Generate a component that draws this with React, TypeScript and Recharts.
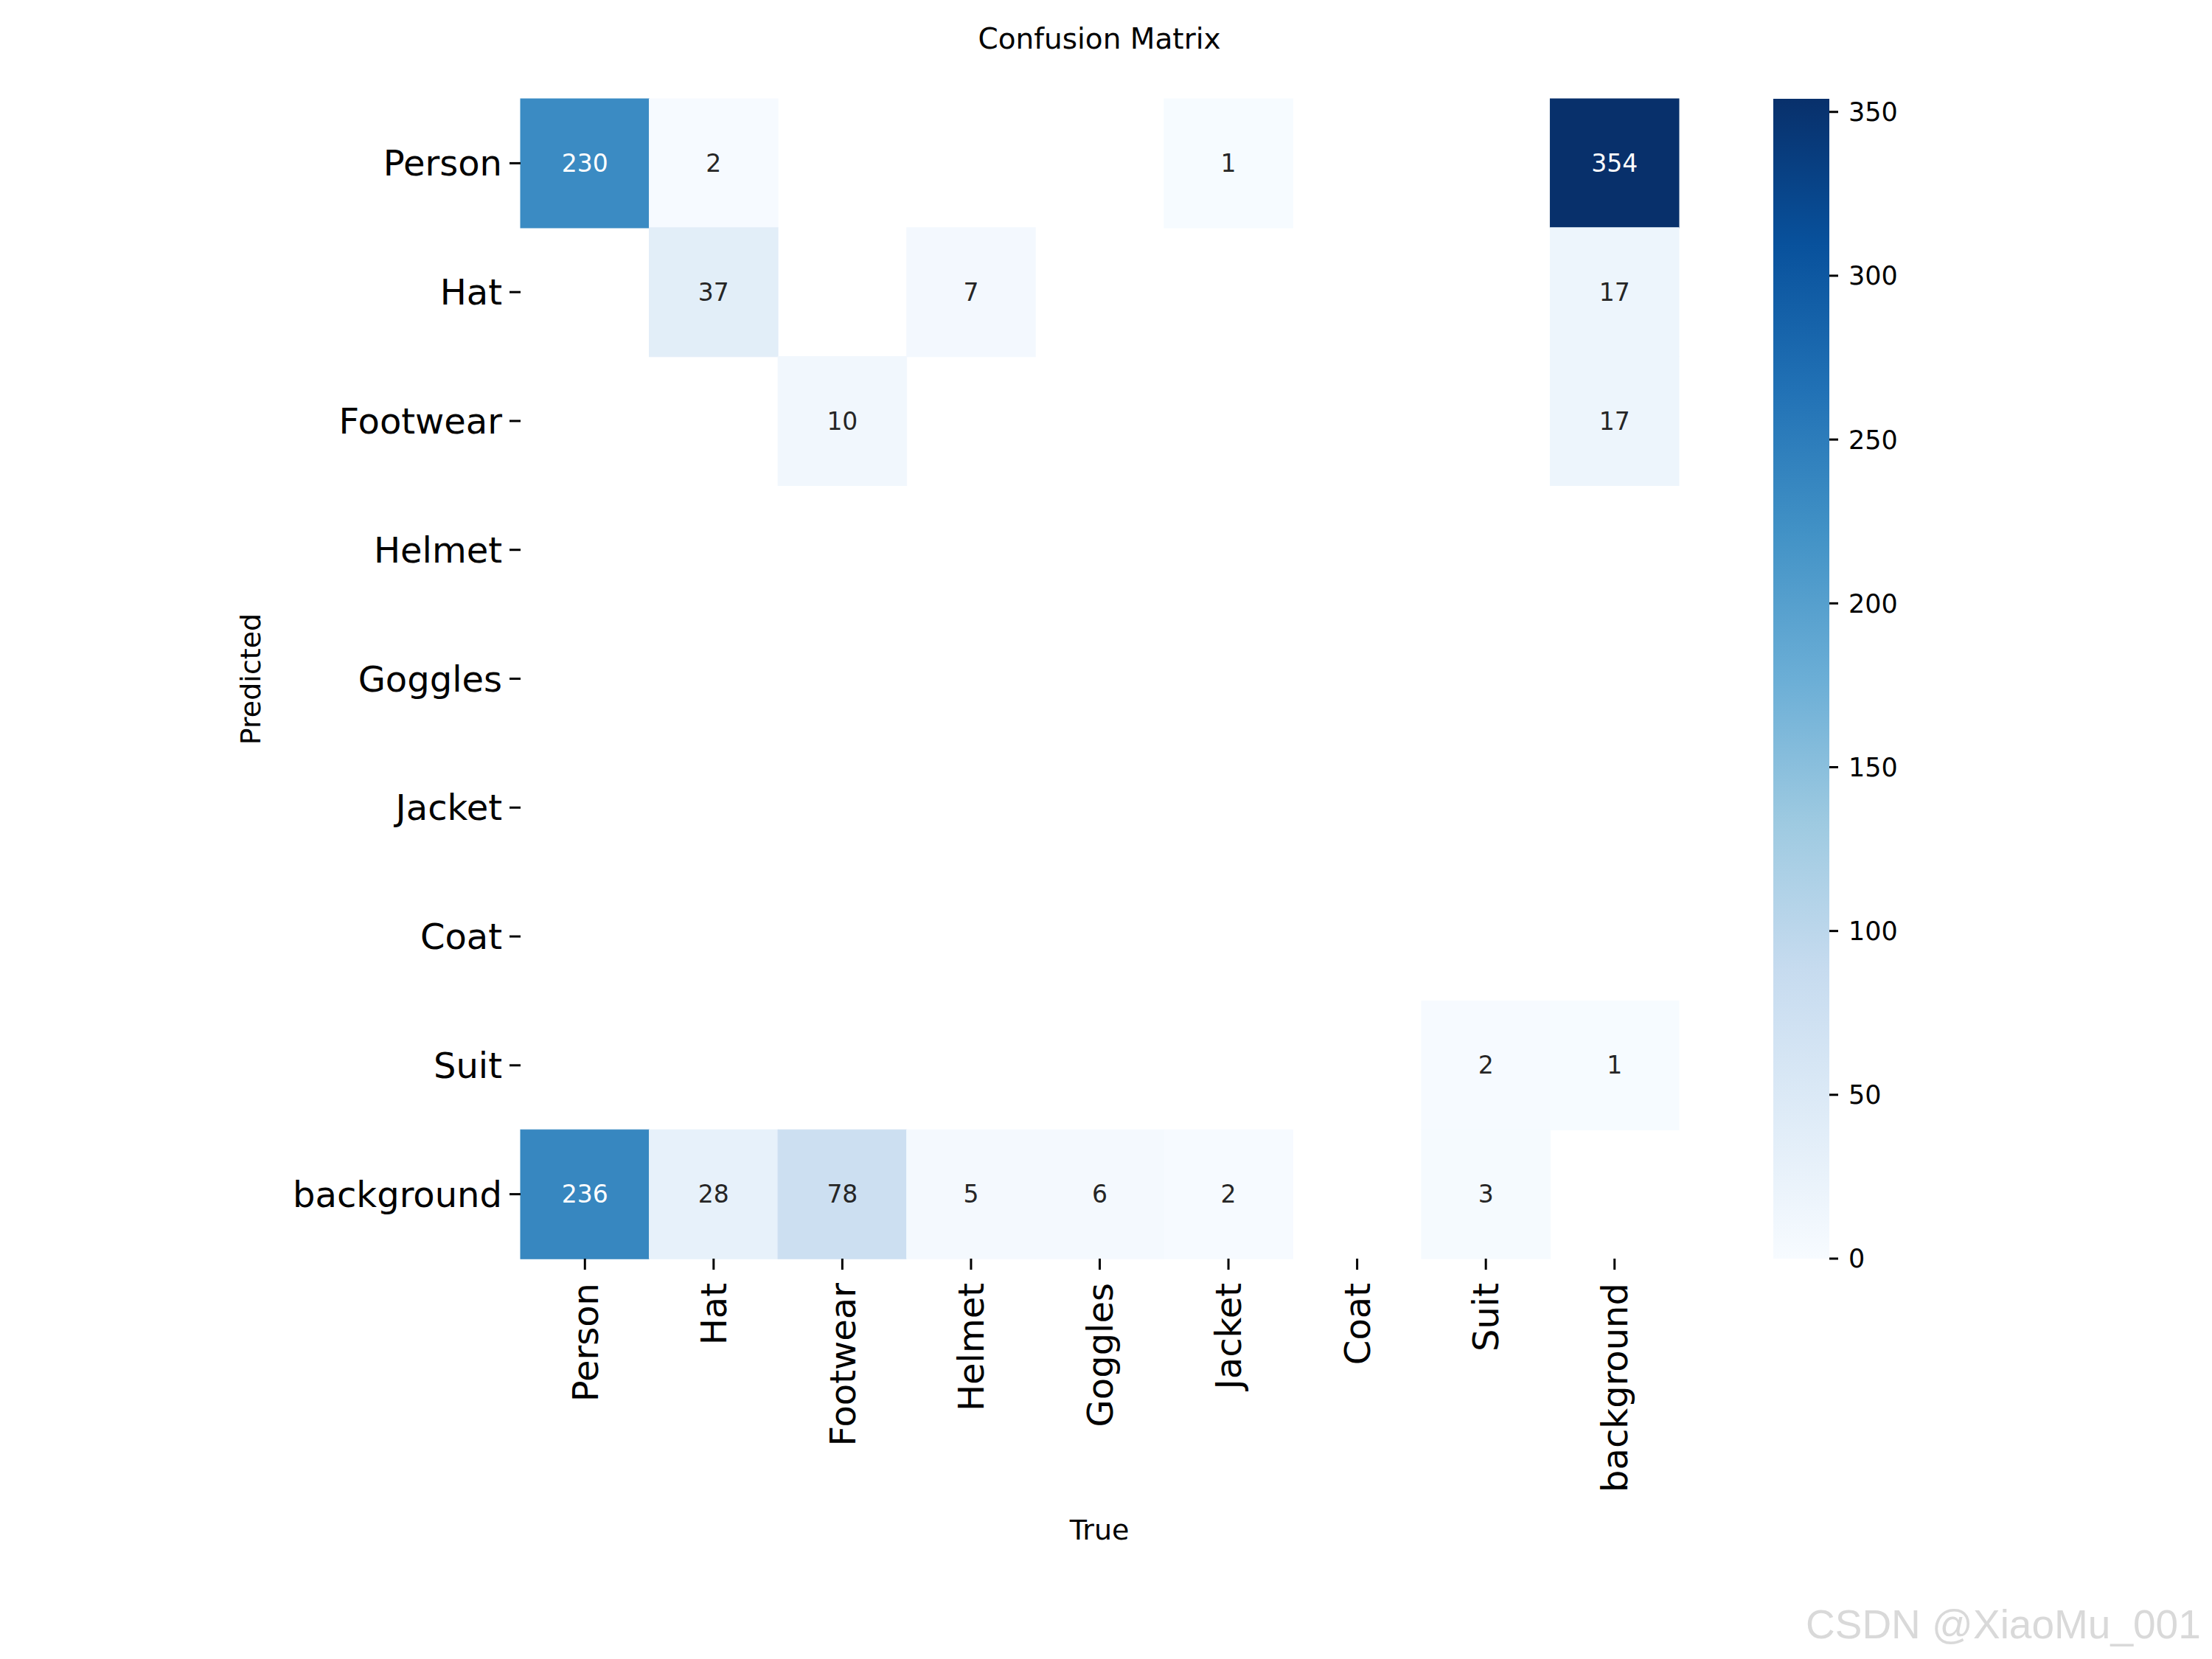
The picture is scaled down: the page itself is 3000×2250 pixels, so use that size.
import React from "react";
import { BarChart, Bar, XAxis, YAxis } from "recharts";

const classes = ["Person", "Hat", "Footwear", "Helmet", "Goggles", "Jacket", "Coat", "Suit", "background"];

// rows = predicted class, columns = true class (0 = empty cell)
const predPerson = [230, 2, 0, 0, 0, 1, 0, 0, 354];
const predHat = [0, 37, 0, 7, 0, 0, 0, 0, 17];
const predFootwear = [0, 0, 10, 0, 0, 0, 0, 0, 17];
const predHelmet = [0, 0, 0, 0, 0, 0, 0, 0, 0];
const predGoggles = [0, 0, 0, 0, 0, 0, 0, 0, 0];
const predJacket = [0, 0, 0, 0, 0, 0, 0, 0, 0];
const predCoat = [0, 0, 0, 0, 0, 0, 0, 0, 0];
const predSuit = [0, 0, 0, 0, 0, 0, 0, 2, 1];
const predBackground = [236, 28, 78, 5, 6, 2, 0, 3, 0];

const matrix = [predPerson, predHat, predFootwear, predHelmet, predGoggles, predJacket, predCoat, predSuit, predBackground];

const vmax = 354;
const colorbarTicks = [0, 50, 100, 150, 200, 250, 300, 350];

// matplotlib "Blues"
const blues = ["#f7fbff", "#deebf7", "#c6dbef", "#9ecae1", "#6baed6", "#4292c6", "#2171b5", "#08519c", "#08306b"];

const hexToRgb = (h: string) => [1, 3, 5].map((i) => parseInt(h.slice(i, i + 2), 16));

const bluesAt = (t: number) => {
  const s = Math.max(0, Math.min(1, t)) * (blues.length - 1);
  const i = Math.min(Math.floor(s), blues.length - 2);
  const f = s - i;
  const a = hexToRgb(blues[i]);
  const b = hexToRgb(blues[i + 1]);
  return a.map((v, k) => Math.round(v + (b[k] - v) * f));
};

const luminance = (rgb: number[]) => {
  const lin = rgb.map((c) => {
    const v = c / 255;
    return v <= 0.03928 ? v / 12.92 : Math.pow((v + 0.055) / 1.055, 2.4);
  });
  return 0.2126 * lin[0] + 0.7152 * lin[1] + 0.0722 * lin[2];
};

const data = classes.map((name, i) => {
  const row: any = { name };
  classes.forEach((_, j) => {
    row[`c${j}`] = 1;
    row[`v${j}`] = matrix[i][j];
  });
  return row;
});

const colorbarData = [{ name: "cb", v: vmax }];

const font = "DejaVu Sans";

const HeatCell = (props: any) => {
  const { x, y, width, height, payload, col } = props;
  const v = payload[`v${col}`];
  if (!v) return <g />;
  const rgb = bluesAt(v / vmax);
  const fill = `rgb(${rgb.join(",")})`;
  const textColor = luminance(rgb) > 0.408 ? "#262626" : "#ffffff";
  return (
    <g>
      <rect x={x} y={y} width={width} height={height} fill={fill} stroke={fill} strokeWidth={1} />
      <text
        x={x + width / 2}
        y={y + height / 2}
        textAnchor="middle"
        dominantBaseline="central"
        fontSize={33}
        fontFamily={font}
        fill={textColor}
      >
        {v}
      </text>
    </g>
  );
};

const XTick = (props: any) => {
  const { x, y, payload } = props;
  const label = classes[Math.floor(payload.value)];
  return (
    <text
      x={x}
      y={y}
      transform={`rotate(-90, ${x}, ${y})`}
      textAnchor="end"
      dy="0.36em"
      fontSize={48}
      fontFamily={font}
      fill="#000"
    >
      {label}
    </text>
  );
};

const App = () => {
  return (
    <div style={{ position: "absolute", left: 0, top: 0, width: 3000, height: 2250, background: "#fff", fontFamily: font }}>
      <div style={{ position: "absolute", left: 0, top: 0 }}>
        <BarChart
          width={3000}
          height={2250}
          data={data}
          layout="vertical"
          barCategoryGap={0}
          barGap={0}
          margin={{ top: 134, right: 723, left: 406, bottom: 143 }}
        >
          <XAxis
            type="number"
            domain={[0, classes.length]}
            ticks={classes.map((_, i) => i + 0.5)}
            interval={0}
            height={400}
            axisLine={false}
            tickSize={15}
            tickMargin={18}
            tickLine={{ stroke: "#000", strokeWidth: 3 }}
            tick={<XTick />}
          />
          <YAxis
            type="category"
            dataKey="name"
            width={300}
            interval={0}
            axisLine={false}
            tickSize={15}
            tickMargin={10}
            tickLine={{ stroke: "#000", strokeWidth: 3 }}
            tick={{ fontSize: 48, fill: "#000", fontFamily: font }}
          />
          {classes.map((_, j) => (
            <Bar
              key={j}
              dataKey={`c${j}`}
              stackId="m"
              isAnimationActive={false}
              shape={(p: any) => <HeatCell {...p} col={j} />}
            />
          ))}
        </BarChart>
      </div>
      <div style={{ position: "absolute", left: 0, top: 0 }}>
        <BarChart
          width={2700}
          height={2250}
          data={colorbarData}
          barCategoryGap={0}
          margin={{ top: 134, right: 69, left: 2405, bottom: 543 }}
        >
          <defs>
            <linearGradient id="cbGrad" x1="0" y1="0" x2="0" y2="1">
              {blues.map((c, k) => (
                <stop key={k} offset={`${(k / (blues.length - 1)) * 100}%`} stopColor={blues[blues.length - 1 - k]} />
              ))}
            </linearGradient>
          </defs>
          <XAxis dataKey="name" hide />
          <YAxis
            type="number"
            orientation="right"
            domain={[0, vmax]}
            ticks={colorbarTicks}
            interval={0}
            width={150}
            axisLine={false}
            tickSize={12}
            tickMargin={14}
            tickLine={{ stroke: "#000", strokeWidth: 3 }}
            tick={{ fontSize: 35, fill: "#000", fontFamily: font, textAnchor: "start" }}
          />
          <Bar dataKey="v" fill="url(#cbGrad)" isAnimationActive={false} />
        </BarChart>
      </div>
      <svg width={3000} height={2250} style={{ position: "absolute", left: 0, top: 0, pointerEvents: "none" }}>
        <text x={1491} y={66} textAnchor="middle" fontSize={39} fontFamily={font} fill="#000">
          Confusion Matrix
        </text>
        <text x={1491} y={2088} textAnchor="middle" fontSize={38} fontFamily={font} fill="#000">
          True
        </text>
        <text
          x={353}
          y={921}
          transform="rotate(-90, 353, 921)"
          textAnchor="middle"
          fontSize={38}
          fontFamily={font}
          fill="#000"
        >
          Predicted
        </text>
        <text x={2449} y={2222} fontSize={55} fontFamily="Liberation Sans" fill="#d9d9d9">
          CSDN @XiaoMu_001
        </text>
      </svg>
    </div>
  );
};

export default App;
